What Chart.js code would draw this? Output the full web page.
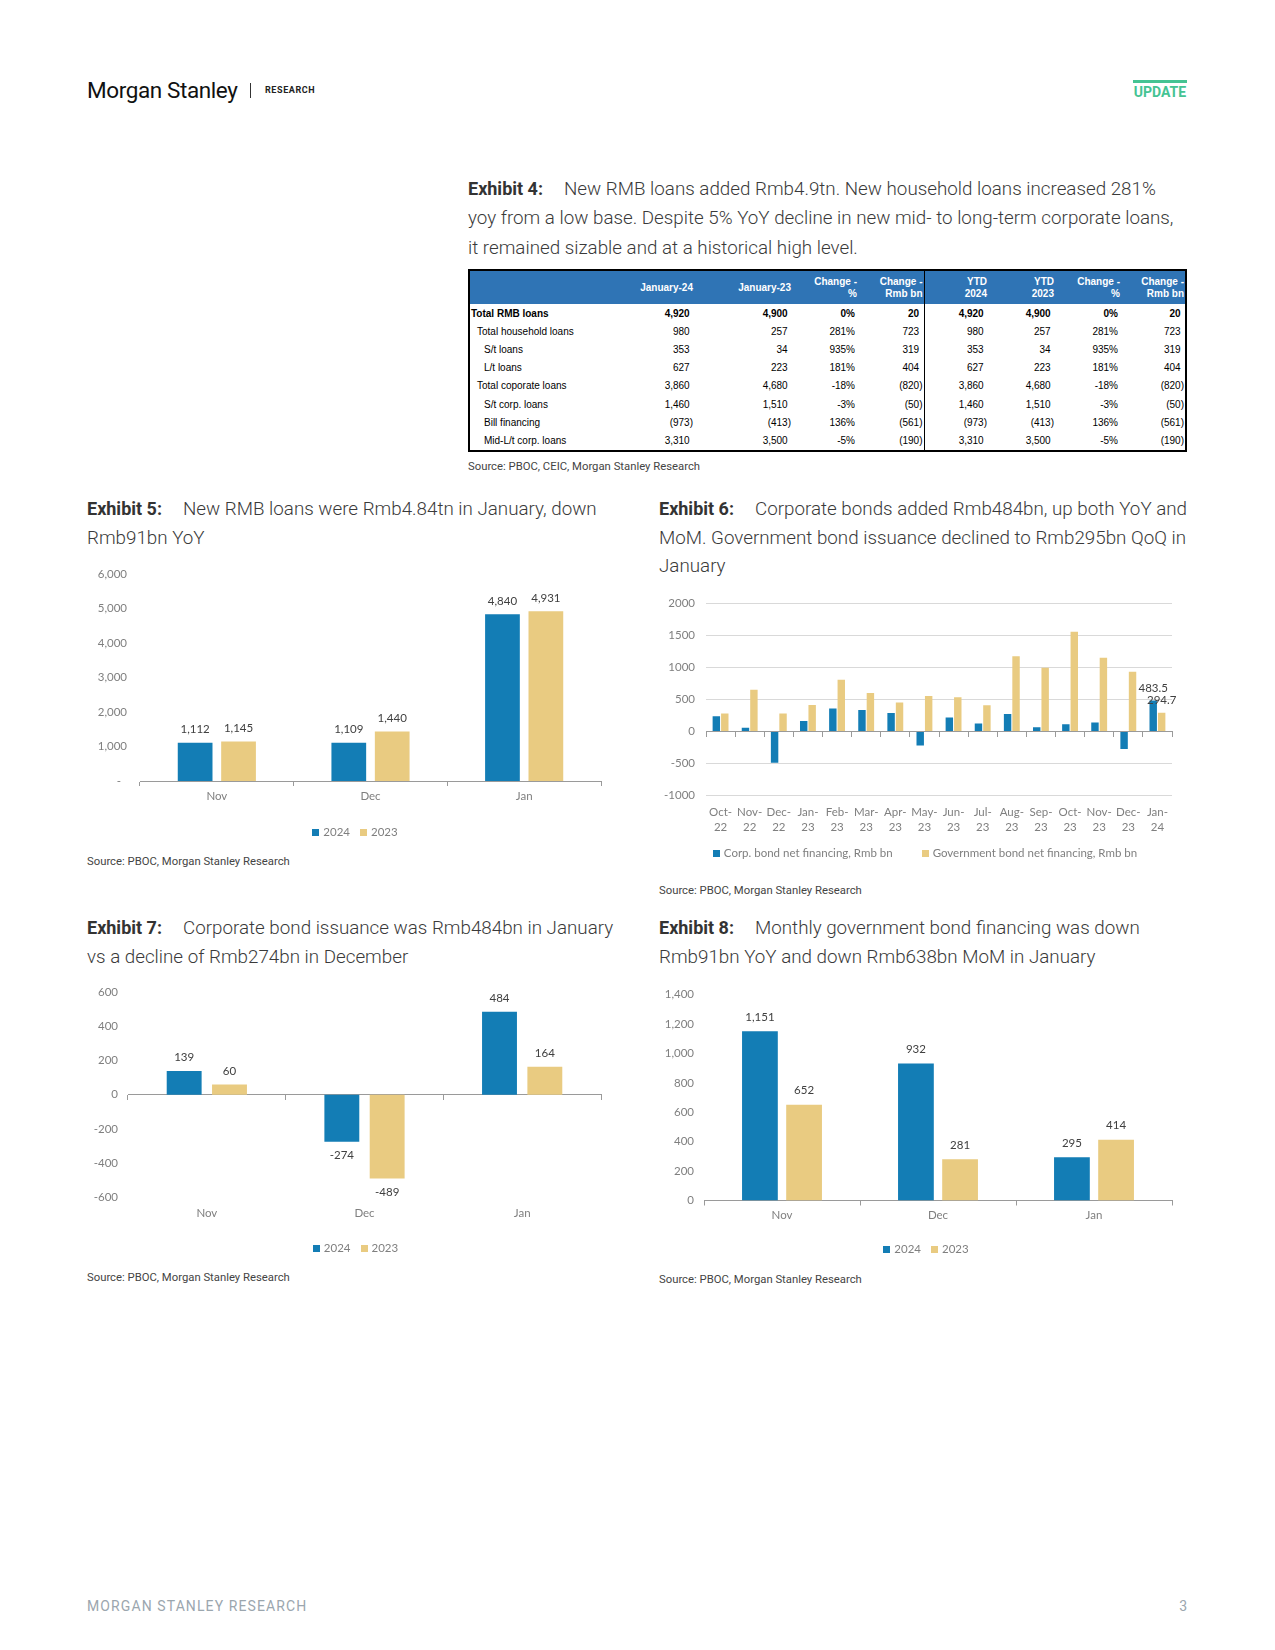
<!DOCTYPE html>
<html>
<head>
<meta charset="utf-8">
<script src="https://cdn.jsdelivr.net/npm/chart.js@4.4.0/dist/chart.umd.min.js"></script>
<style>
body { margin: 0; background: #fff; }
#page { position: relative; width: 1275px; height: 1650px; font-family: Roboto, 'Noto Sans', sans-serif; color: #333; overflow: hidden; }
.abs { position: absolute; white-space: nowrap; }
.ttl { position: absolute; font-size: 18.8px; line-height: 28.5px; font-weight: 300; color: #3a3a3a; white-space: nowrap; }
.ttl b { display: inline-block; width: 96px; font-size: 18px; font-weight: 700; color: #333; }
.src { position: absolute; font-size: 11.3px; line-height: 14px; color: #444; white-space: nowrap; }
canvas { position: absolute; }
#tblwrap { position: absolute; left: 468px; top: 269px; width: 719px; box-sizing: border-box; border: 2px solid #000; }
#tbl { width: 715px; border-collapse: collapse; table-layout: fixed; font-family: 'Liberation Sans', Arial, sans-serif; font-size: 10px; color: #000; }
#tbl th { background: #2F74B5; color: #fff; font-weight: 700; height: 33px; line-height: 12px; text-align: right; padding: 0 1px 0 0; vertical-align: middle; }
#tbl td { height: 18.2px; padding: 0 1px 0 0; text-align: right; white-space: nowrap; }
#tbl td.lbl { text-align: left; }
#tbl td.pct { padding-right: 3px; }
#tbl .div { border-right: 1px solid #000; }
#tbl tr.bold td { font-weight: 700; }
.hp { visibility: hidden; }
</style>
</head>
<body>
<div id="page">
  <div class="abs" style="left:87px;top:76px;font-size:22.5px;line-height:28px;color:#111;letter-spacing:-0.4px;">Morgan Stanley</div>
  <div class="abs" style="left:250px;top:83px;width:1px;height:15px;background:#333;"></div>
  <div class="abs" style="left:265px;top:84px;font-size:9px;line-height:12px;font-weight:700;letter-spacing:0.6px;color:#222;">RESEARCH</div>
  <div class="abs" style="left:1133px;top:80px;width:54px;height:3px;background:#45C393;"></div>
  <div class="abs" style="left:1133px;top:83px;width:54px;text-align:center;font-size:14px;line-height:18px;font-weight:700;color:#45C393;">UPDATE</div>

  <div class="ttl" style="left:468px;top:173.5px;line-height:29.5px;">
    <div><b>Exhibit 4:</b>New RMB loans added Rmb4.9tn. New household loans increased 281%</div>
    <div>yoy from a low base. Despite 5% YoY decline in new mid- to long-term corporate loans,</div>
    <div>it remained sizable and at a historical high level.</div>
  </div>

  <div id="tblwrap"><table id="tbl"></table></div>
  <div class="src" style="left:468px;top:460px;">Source: PBOC, CEIC, Morgan Stanley Research</div>

  <div class="ttl" style="left:87px;top:495px;">
    <div><b>Exhibit 5:</b>New RMB loans were Rmb4.84tn in January, down</div>
    <div>Rmb91bn YoY</div>
  </div>
  <canvas id="ex5" width="516" height="285" style="left:95px;top:560px;"></canvas>
  <div class="src" style="left:87px;top:855px;">Source: PBOC, Morgan Stanley Research</div>

  <div class="ttl" style="left:659px;top:495px;">
    <div><b>Exhibit 6:</b>Corporate bonds added Rmb484bn, up both YoY and</div>
    <div>MoM. Government bond issuance declined to Rmb295bn QoQ in</div>
    <div>January</div>
  </div>
  <canvas id="ex6" width="520" height="275" style="left:662px;top:590px;"></canvas>
  <div class="src" style="left:659px;top:884px;">Source: PBOC, Morgan Stanley Research</div>

  <div class="ttl" style="left:87px;top:914px;">
    <div><b>Exhibit 7:</b>Corporate bond issuance was Rmb484bn in January</div>
    <div>vs a decline of Rmb274bn in December</div>
  </div>
  <canvas id="ex7" width="519" height="282" style="left:92px;top:979px;"></canvas>
  <div class="src" style="left:87px;top:1271px;">Source: PBOC, Morgan Stanley Research</div>

  <div class="ttl" style="left:659px;top:914px;">
    <div><b>Exhibit 8:</b>Monthly government bond financing was down</div>
    <div>Rmb91bn YoY and down Rmb638bn MoM in January</div>
  </div>
  <canvas id="ex8" width="522" height="282" style="left:660px;top:980px;"></canvas>
  <div class="src" style="left:659px;top:1273px;">Source: PBOC, Morgan Stanley Research</div>

  <div class="abs" style="left:87px;top:1597px;font-size:14px;line-height:18px;letter-spacing:1.1px;color:#9ba6ae;">MORGAN STANLEY RESEARCH</div>
  <div class="abs" style="left:1150px;width:37px;text-align:right;top:1597px;font-size:14px;line-height:18px;color:#9ba6ae;">3</div>
</div>

<script>
// Exhibit 4 table
const tableHeaders = ['', 'January-24', 'January-23', 'Change -<br>%', 'Change -<br>Rmb bn', 'YTD<br>2024', 'YTD<br>2023', 'Change -<br>%', 'Change -<br>Rmb bn'];
const tableRows = ['Total RMB loans', 'Total household loans', 'S/t loans', 'L/t loans', 'Total coporate loans', 'S/t corp. loans', 'Bill financing', 'Mid-L/t corp. loans'];
const rowIndent = [1, 7, 14, 14, 7, 14, 14, 14];
const jan24 = ['4,920', '980', '353', '627', '3,860', '1,460', '(973)', '3,310'];
const jan23 = ['4,900', '257', '34', '223', '4,680', '1,510', '(413)', '3,500'];
const changePct = ['0%', '281%', '935%', '181%', '-18%', '-3%', '136%', '-5%'];
const changeBn = ['20', '723', '319', '404', '(820)', '(50)', '(561)', '(190)'];
const ytd2024 = ['4,920', '980', '353', '627', '3,860', '1,460', '(973)', '3,310'];
const ytd2023 = ['4,900', '257', '34', '223', '4,680', '1,510', '(413)', '3,500'];
const ytdPct = ['0%', '281%', '935%', '181%', '-18%', '-3%', '136%', '-5%'];
const ytdBn = ['20', '723', '319', '404', '(820)', '(50)', '(561)', '(190)'];

// Exhibit 5
const shortMonths = ['Nov', 'Dec', 'Jan'];
const loans2024 = [1112, 1109, 4840];
const loans2023 = [1145, 1440, 4931];
const loanTicks = ['-', '1,000', '2,000', '3,000', '4,000', '5,000', '6,000'];

// Exhibit 6
const bondMonths = [['Oct-', '22'], ['Nov-', '22'], ['Dec-', '22'], ['Jan-', '23'], ['Feb-', '23'], ['Mar-', '23'], ['Apr-', '23'], ['May-', '23'],
  ['Jun-', '23'], ['Jul-', '23'], ['Aug-', '23'], ['Sep-', '23'], ['Oct-', '23'], ['Nov-', '23'], ['Dec-', '23'], ['Jan-', '24']];
const corpBondNet = [238, 60, -489, 164, 360, 335, 290, -220, 220, 125, 275, 65, 115, 139, -274, 483.5];
const govBondNet = [281, 652, 281, 414, 810, 600, 455, 555, 535, 410, 1175, 995, 1560, 1151, 932, 294.7];
const bondTicks = ['-1000', '-500', '0', '500', '1000', '1500', '2000'];

// Exhibit 7
const corp2024 = [139, -274, 484];
const corp2023 = [60, -489, 164];
const corpTicks = ['-600', '-400', '-200', '0', '200', '400', '600'];

// Exhibit 8
const gov2024 = [1151, 932, 295];
const gov2023 = [652, 281, 414];
const govTicks = ['0', '200', '400', '600', '800', '1,000', '1,200', '1,400'];

const BLUE = '#137DB5';
const GOLD = '#E9CB81';
const TICK_GREY = '#7f7f7f';
const AXIS_GREY = '#9a9a9a';
const FONT = "Lato, 'Open Sans', sans-serif";

function buildTable() {
  const tbl = document.getElementById('tbl');
  const widths = [130, 94, 98, 66, 66, 64, 67, 66, 64];
  let html = '<colgroup>' + widths.map(w => `<col style="width:${w}px">`).join('') + '</colgroup>';
  html += '<tr>' + tableHeaders.map((h, i) => `<th${i === 4 ? ' class="div"' : ''}>${h}</th>`).join('') + '</tr>';
  const num = v => v.endsWith(')') ? v : v + '<span class="hp">)</span>';
  tableRows.forEach((name, r) => {
    html += `<tr${r === 0 ? ' class="bold"' : ''}>`;
    html += `<td class="lbl" style="padding-left:${rowIndent[r]}px">${name}</td>`;
    html += `<td>${num(jan24[r])}</td><td>${num(jan23[r])}</td>`;
    html += `<td class="pct">${changePct[r]}</td><td class="div">${num(changeBn[r])}</td>`;
    html += `<td>${num(ytd2024[r])}</td><td>${num(ytd2023[r])}</td>`;
    html += `<td class="pct">${ytdPct[r]}</td><td>${num(ytdBn[r])}</td>`;
    html += '</tr>';
  });
  tbl.innerHTML = html;
}
buildTable();

Chart.defaults.font.family = FONT;
Chart.defaults.font.size = 11.5;
Chart.defaults.color = TICK_GREY;

function valueLabels(fmt, offset) {
  return {
    id: 'valueLabels',
    afterDatasetsDraw(chart) {
      const ctx = chart.ctx;
      ctx.save();
      ctx.font = '11.5px ' + FONT;
      ctx.fillStyle = '#404040';
      ctx.textAlign = 'center';
      ctx.textBaseline = 'middle';
      chart.data.datasets.forEach((ds, di) => {
        chart.getDatasetMeta(di).data.forEach((bar, i) => {
          const v = ds.data[i];
          const txt = fmt(v, i, ds.data.length);
          if (txt === null) return;
          ctx.fillText(txt, bar.x, v >= 0 ? bar.y - offset : bar.y + offset);
        });
      });
      ctx.restore();
    }
  };
}

// legend row drawn from the datasets, centred at (cx, cy) in canvas pixels
function bottomLegend(cx, cy, gap) {
  return {
    id: 'bottomLegend',
    afterDraw(chart) {
      const ctx = chart.ctx;
      ctx.save();
      ctx.font = '11.5px ' + FONT;
      ctx.textBaseline = 'middle';
      ctx.textAlign = 'left';
      const items = chart.data.datasets.map(ds => ({
        text: ds.label, color: ds.backgroundColor, w: 11 + ctx.measureText(ds.label).width
      }));
      const total = items.reduce((s, it) => s + it.w, 0) + gap * (items.length - 1);
      let x = cx - total / 2;
      items.forEach(it => {
        ctx.fillStyle = it.color;
        ctx.fillRect(Math.round(x), Math.round(cy - 3.5), 7, 7);
        ctx.fillStyle = TICK_GREY;
        ctx.fillText(it.text, x + 11, cy + 0.5);
        x += it.w + gap;
      });
      ctx.restore();
    }
  };
}

const fixedWidth = w => s => { s.width = w; };
const fixedHeight = h => s => { s.height = h; };

function pairDatasets(a, b, cat, bar) {
  return [
    { label: '2024', data: a, backgroundColor: BLUE, categoryPercentage: cat, barPercentage: bar },
    { label: '2023', data: b, backgroundColor: GOLD, categoryPercentage: cat, barPercentage: bar }
  ];
}

const baseOpts = { responsive: false, animation: false, devicePixelRatio: 1 };
const noLegend = { legend: { display: false }, tooltip: { enabled: false } };

function bottomAxis(pad, h) {
  return {
    offset: true,
    grid: { display: true, drawOnChartArea: false, offset: true, tickLength: 5, color: AXIS_GREY },
    border: { color: AXIS_GREY },
    ticks: { padding: pad },
    afterFit: fixedHeight(h)
  };
}

function zeroAxis() {
  return {
    position: { y: 0 },
    offset: true,
    ticks: { display: false },
    grid: { display: true, drawOnChartArea: false, offset: true, tickLength: 5, color: AXIS_GREY },
    border: { color: AXIS_GREY }
  };
}

function labelAxis(labels, pad, h, extra) {
  return {
    type: 'category', axis: 'x', position: 'bottom',
    labels: labels, offset: true,
    grid: { display: false, drawTicks: false },
    border: { display: false },
    ticks: Object.assign({ padding: pad, autoSkip: false, maxRotation: 0 }, extra || {}),
    afterFit: fixedHeight(h)
  };
}

// the gap between labels and plot is an invisible tick mark, so it does not push the plot top down
function valueAxis(min, max, step, labels, gap, w, gridColor) {
  return {
    min: min, max: max,
    ticks: { stepSize: step, padding: 0, callback: (v, i) => labels[i] },
    grid: {
      display: !!gridColor,
      drawTicks: true,
      tickLength: gap,
      tickColor: 'rgba(0,0,0,0)',
      color: c => c.tick && c.tick.value === 0 ? 'rgba(0,0,0,0)' : (gridColor || 'rgba(0,0,0,0)')
    },
    border: { display: false },
    afterFit: fixedWidth(w)
  };
}

// Exhibit 5: new RMB loans
new Chart(document.getElementById('ex5'), {
  type: 'bar',
  data: { labels: shortMonths, datasets: pairDatasets(loans2024, loans2023, 0.565, 0.8) },
  options: {
    ...baseOpts,
    layout: { padding: { left: 0, top: 14.3, right: 10, bottom: 40 } },
    plugins: noLegend,
    scales: {
      x: bottomAxis(3, 24),
      y: valueAxis(0, 6000, 1000, loanTicks.map(t => t === '-' ? '-  ' : t), 13, 45)
    }
  },
  plugins: [valueLabels(v => v.toLocaleString('en-US'), 13), bottomLegend(260, 272, 10)]
});

// Exhibit 6: corporate vs government bond net financing
new Chart(document.getElementById('ex6'), {
  type: 'bar',
  data: {
    labels: bondMonths,
    datasets: [
      { label: 'Corp. bond net financing, Rmb bn', data: corpBondNet, backgroundColor: BLUE, categoryPercentage: 0.58, barPercentage: 0.88 },
      { label: 'Government bond net financing, Rmb bn', data: govBondNet, backgroundColor: GOLD, categoryPercentage: 0.58, barPercentage: 0.88 }
    ]
  },
  options: {
    ...baseOpts,
    layout: { padding: { left: 0, top: 13.5, right: 10, bottom: 29.5 } },
    plugins: noLegend,
    scales: {
      x: zeroAxis(),
      xl: labelAxis(bondMonths, 9, 40, { font: { lineHeight: '15px' } }),
      y: valueAxis(-1000, 2000, 500, bondTicks, 11, 44, '#d9d9d9')
    }
  },
  plugins: [valueLabels((v, i, n) => i === n - 1 ? v.toFixed(1) : null, 12), bottomLegend(263, 263, 29)]
});

// Exhibit 7: corporate bond issuance
new Chart(document.getElementById('ex7'), {
  type: 'bar',
  data: { labels: shortMonths, datasets: pairDatasets(corp2024, corp2023, 0.575, 0.77) },
  options: {
    ...baseOpts,
    layout: { padding: { left: 0, top: 13, right: 10, bottom: 37.5 } },
    plugins: noLegend,
    scales: {
      x: zeroAxis(),
      xl: labelAxis(shortMonths, 8.5, 26),
      y: valueAxis(-600, 600, 200, corpTicks, 10, 36)
    }
  },
  plugins: [valueLabels(v => String(v), 13.5), bottomLegend(263.5, 269, 10)]
});

// Exhibit 8: government bond financing
new Chart(document.getElementById('ex8'), {
  type: 'bar',
  data: { labels: shortMonths, datasets: pairDatasets(gov2024, gov2023, 0.566, 0.81) },
  options: {
    ...baseOpts,
    layout: { padding: { left: 0, top: 14.7, right: 10, bottom: 37.5 } },
    plugins: noLegend,
    scales: {
      x: bottomAxis(3, 24),
      y: valueAxis(0, 1400, 200, govTicks, 10, 44)
    }
  },
  plugins: [valueLabels(v => v.toLocaleString('en-US'), 14), bottomLegend(266, 269, 10)]
});
</script>
</body>
</html>
